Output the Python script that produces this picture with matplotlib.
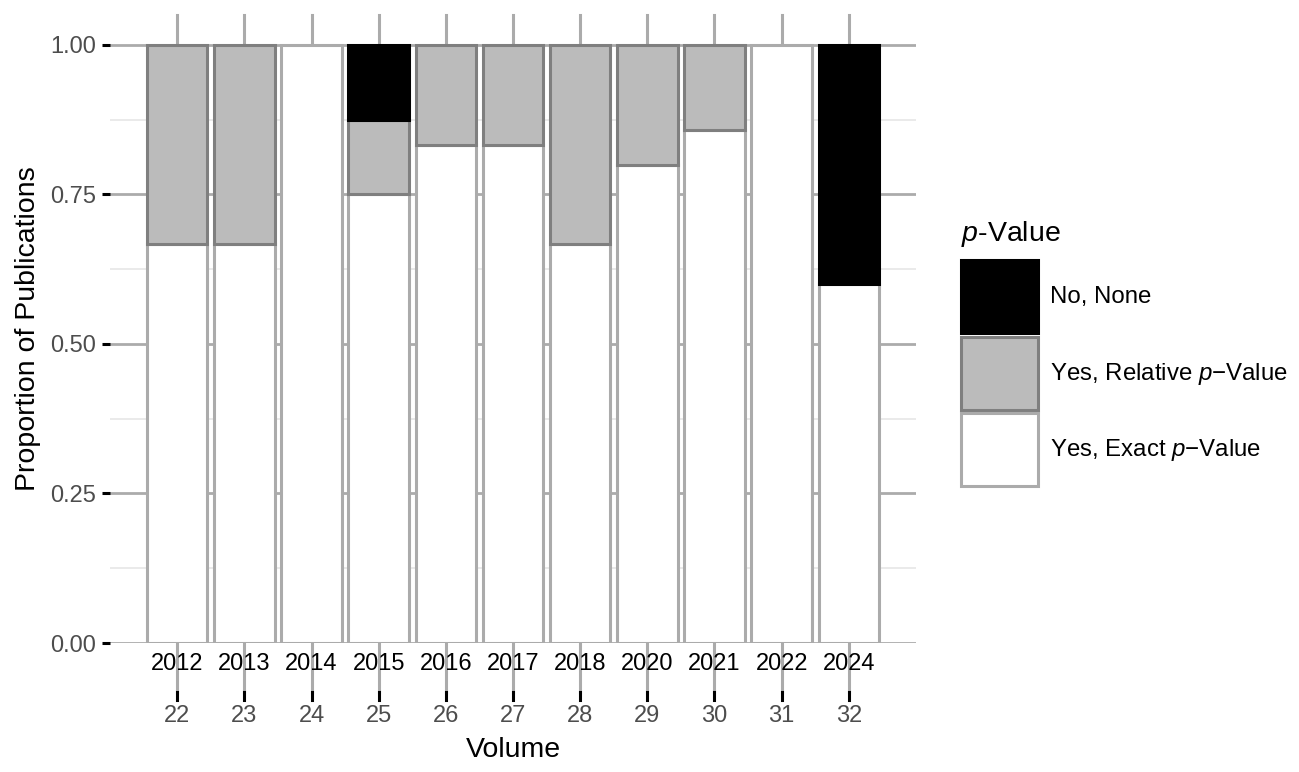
import numpy as np
import matplotlib
matplotlib.use("Agg")
import matplotlib.pyplot as plt
from matplotlib.patches import Patch
from matplotlib.transforms import blended_transform_factory

# data
volumes = ["22", "23", "24", "25", "26", "27", "28", "29", "30", "31", "32"]
years = ["2012", "2013", "2014", "2015", "2016", "2017", "2018", "2020", "2021", "2022", "2024"]
exact_p = [0.667, 0.667, 1.0, 0.75, 0.833, 0.833, 0.667, 0.8, 0.857, 1.0, 0.6]
relative_p = [0.333, 0.333, 0.0, 0.125, 0.167, 0.167, 0.333, 0.2, 0.143, 0.0, 0.0]
no_p = [0.0, 0.0, 0.0, 0.125, 0.0, 0.0, 0.0, 0.0, 0.0, 0.0, 0.4]

plt.rcParams["font.family"] = ["Liberation Sans", "DejaVu Sans"]
plt.rcParams["mathtext.fontset"] = "custom"
plt.rcParams["mathtext.rm"] = "Liberation Sans"
plt.rcParams["mathtext.it"] = "Liberation Sans:italic"

fig = plt.figure(figsize=(12.99, 7.72), dpi=100)
ax = fig.add_axes([110 / 1299, 1 - 643 / 772, 806 / 1299, 628 / 772])

x = np.arange(len(volumes))
series = [
    (exact_p, "#ffffff", "#ababab"),
    (relative_p, "#bbbbbb", "#7f7f7f"),
    (no_p, "#000000", "#000000"),
]
bottom = np.zeros(len(x))
for vals, fc, ec in series:
    vals = np.array(vals)
    m = vals > 0
    ax.bar(x[m], vals[m], bottom=bottom[m], width=0.9, color=fc,
           edgecolor=ec, linewidth=2.2, zorder=3)
    bottom += vals

ax.set_xlim(-1, len(x))
ax.set_ylim(0, 1.05)
for s in ax.spines.values():
    s.set_visible(False)

# y axis + grid
ax.set_yticks([0, 0.25, 0.5, 0.75, 1.0])
ax.set_yticklabels(["0.00", "0.25", "0.50", "0.75", "1.00"])
ax.set_yticks([0.125, 0.375, 0.625, 0.875], minor=True)
ax.grid(axis="y", which="major", color="#ababab", linewidth=2.0)
ax.grid(axis="y", which="minor", color="#e4e4e4", linewidth=1.1)
ax.set_axisbelow(True)
ax.tick_params(axis="y", which="major", length=6, width=2.2, color="black",
               labelsize=17, labelcolor="#4d4d4d", pad=4)
ax.tick_params(axis="y", which="minor", length=0)

# x axis: volumes as tick labels, years just under the panel
ax.set_xticks(x)
ax.set_xticklabels(volumes)
ax.tick_params(axis="x", length=0, pad=45, labelsize=17, labelcolor="#4d4d4d")

trans = blended_transform_factory(ax.transData, ax.transAxes)
for xi, yr in zip(x, years):
    ax.axvline(xi, ymin=-0.078, ymax=1, color="#ababab", lw=2.2,
               clip_on=False, zorder=1)
    ax.axvline(xi, ymin=-0.091, ymax=-0.078, color="black", lw=2.2,
               clip_on=False, zorder=1)
    ax.text(xi, -0.034, yr, transform=trans, ha="center", va="center",
            fontsize=17, color="black", zorder=5)

ax.set_xlabel("Volume", fontsize=20.5)
ax.xaxis.set_label_coords(0.5, -0.15)
ax.set_ylabel("Proportion of Publications", fontsize=20.5)
ax.yaxis.set_label_coords(-0.086, 0.5)

handles = [
    Patch(facecolor="#000000", edgecolor="#000000", linewidth=2.2),
    Patch(facecolor="#bbbbbb", edgecolor="#7f7f7f", linewidth=2.2),
    Patch(facecolor="#ffffff", edgecolor="#ababab", linewidth=2.2),
]
labels = ["No, None", "Yes, Relative $p$\u2212Value", "Yes, Exact $p$\u2212Value"]
leg = fig.legend(handles, labels, title="$p$-Value", loc="upper left",
                 bbox_to_anchor=(961 / 1299, 1 - 219 / 772), frameon=False,
                 fontsize=17.3, title_fontsize=20.5, handlelength=3.2,
                 handleheight=4.3, labelspacing=0.15, handletextpad=0.5,
                 borderpad=0, borderaxespad=0, alignment="left")
# a bit more room between the title and the keys
leg._legend_box.sep = 8

fig.savefig("out.png", dpi=100)
